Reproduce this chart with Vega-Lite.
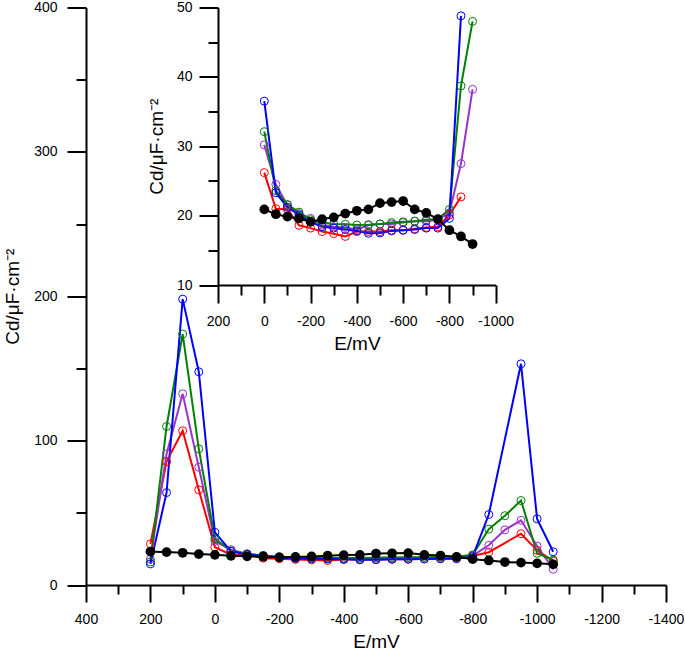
{
  "$schema": "https://vega.github.io/schema/vega-lite/v6.json",
  "width": 580,
  "height": 577.5,
  "autosize": {"type": "none"},
  "padding": {"left": 86, "top": 7.5, "right": 19, "bottom": 66},
  "background": "white",
  "config": {
    "view": {"stroke": null},
    "font": "Liberation Sans",
    "axis": {
      "grid": false,
      "domainColor": "black",
      "domainWidth": 2,
      "tickColor": "black",
      "tickWidth": 2,
      "labelColor": "black",
      "titleColor": "black",
      "labelFont": "Liberation Sans",
      "titleFont": "Liberation Sans",
      "labelFontSize": 14,
      "titleFontSize": 19,
      "titleFontWeight": "normal",
      "labelFlush": false,
      "labelOverlap": false
    }
  },
  "datasets": {
    "d": [
      {"s": "red", "E": 200, "C": 28.5}, {"s": "red", "E": 150, "C": 85.5}, {"s": "red", "E": 100, "C": 106.8}, {"s": "red", "E": 50, "C": 65.9}, {"s": "red", "E": 0, "C": 26.2}, {"s": "red", "E": -50, "C": 21.0}, {"s": "red", "E": -100, "C": 20.9}, {"s": "red", "E": -150, "C": 18.6}, {"s": "red", "E": -200, "C": 18.2}, {"s": "red", "E": -250, "C": 17.7}, {"s": "red", "E": -300, "C": 17.4}, {"s": "red", "E": -350, "C": 17.0}, {"s": "red", "E": -400, "C": 17.7}, {"s": "red", "E": -450, "C": 17.7}, {"s": "red", "E": -500, "C": 17.7}, {"s": "red", "E": -550, "C": 17.9}, {"s": "red", "E": -600, "C": 17.9}, {"s": "red", "E": -650, "C": 18.1}, {"s": "red", "E": -700, "C": 18.3}, {"s": "red", "E": -750, "C": 18.4}, {"s": "red", "E": -800, "C": 20.1}, {"s": "red", "E": -850, "C": 22.7}, {"s": "red", "E": -950, "C": 35.5}, {"s": "red", "E": -1000, "C": 24.0}, {"s": "red", "E": -1050, "C": 16.5},
      {"s": "purple", "E": 200, "C": 18.0}, {"s": "purple", "E": 150, "C": 90.8}, {"s": "purple", "E": 100, "C": 132.4}, {"s": "purple", "E": 50, "C": 81.6}, {"s": "purple", "E": 0, "C": 30.2}, {"s": "purple", "E": -50, "C": 24.5}, {"s": "purple", "E": -100, "C": 21.5}, {"s": "purple", "E": -150, "C": 20.3}, {"s": "purple", "E": -200, "C": 19.6}, {"s": "purple", "E": -250, "C": 18.6}, {"s": "purple", "E": -300, "C": 18.4}, {"s": "purple", "E": -350, "C": 18.3}, {"s": "purple", "E": -400, "C": 18.0}, {"s": "purple", "E": -450, "C": 18.6}, {"s": "purple", "E": -500, "C": 18.8}, {"s": "purple", "E": -550, "C": 18.8}, {"s": "purple", "E": -600, "C": 19.0}, {"s": "purple", "E": -650, "C": 19.2}, {"s": "purple", "E": -700, "C": 19.2}, {"s": "purple", "E": -750, "C": 19.4}, {"s": "purple", "E": -800, "C": 20.4}, {"s": "purple", "E": -850, "C": 27.5}, {"s": "purple", "E": -900, "C": 38.2}, {"s": "purple", "E": -950, "C": 44.8}, {"s": "purple", "E": -1000, "C": 27.0}, {"s": "purple", "E": -1050, "C": 10.9},
      {"s": "green", "E": 200, "C": 16.0}, {"s": "green", "E": 150, "C": 109.8}, {"s": "green", "E": 100, "C": 173.8}, {"s": "green", "E": 50, "C": 94.3}, {"s": "green", "E": 0, "C": 32.1}, {"s": "green", "E": -50, "C": 23.6}, {"s": "green", "E": -100, "C": 21.6}, {"s": "green", "E": -150, "C": 20.5}, {"s": "green", "E": -200, "C": 19.4}, {"s": "green", "E": -250, "C": 19.0}, {"s": "green", "E": -300, "C": 18.8}, {"s": "green", "E": -350, "C": 18.75}, {"s": "green", "E": -400, "C": 18.65}, {"s": "green", "E": -450, "C": 18.7}, {"s": "green", "E": -500, "C": 18.8}, {"s": "green", "E": -550, "C": 19.0}, {"s": "green", "E": -600, "C": 19.1}, {"s": "green", "E": -650, "C": 19.2}, {"s": "green", "E": -700, "C": 19.4}, {"s": "green", "E": -750, "C": 19.5}, {"s": "green", "E": -800, "C": 20.9}, {"s": "green", "E": -850, "C": 38.7}, {"s": "green", "E": -900, "C": 48.0}, {"s": "green", "E": -950, "C": 58.5}, {"s": "green", "E": -1000, "C": 22.0}, {"s": "green", "E": -1050, "C": 17.3},
      {"s": "blue", "E": 200, "C": 14.6}, {"s": "blue", "E": 150, "C": 64.0}, {"s": "blue", "E": 100, "C": 198.0}, {"s": "blue", "E": 50, "C": 147.7}, {"s": "blue", "E": 0, "C": 36.5}, {"s": "blue", "E": -50, "C": 23.3}, {"s": "blue", "E": -100, "C": 21.2}, {"s": "blue", "E": -150, "C": 20.1}, {"s": "blue", "E": -200, "C": 19.1}, {"s": "blue", "E": -250, "C": 18.4}, {"s": "blue", "E": -300, "C": 18.2}, {"s": "blue", "E": -350, "C": 18.0}, {"s": "blue", "E": -400, "C": 17.8}, {"s": "blue", "E": -450, "C": 17.45}, {"s": "blue", "E": -500, "C": 17.5}, {"s": "blue", "E": -550, "C": 17.8}, {"s": "blue", "E": -600, "C": 17.9}, {"s": "blue", "E": -650, "C": 18.0}, {"s": "blue", "E": -700, "C": 18.2}, {"s": "blue", "E": -750, "C": 18.2}, {"s": "blue", "E": -800, "C": 19.6}, {"s": "blue", "E": -850, "C": 48.8}, {"s": "blue", "E": -950, "C": 153.2}, {"s": "blue", "E": -1000, "C": 45.8}, {"s": "blue", "E": -1050, "C": 23.0},
      {"s": "black", "E": 200, "C": 23.1}, {"s": "black", "E": 150, "C": 22.8}, {"s": "black", "E": 100, "C": 22.3}, {"s": "black", "E": 50, "C": 21.4}, {"s": "black", "E": 0, "C": 20.9}, {"s": "black", "E": -50, "C": 20.2}, {"s": "black", "E": -100, "C": 19.85}, {"s": "black", "E": -150, "C": 19.6}, {"s": "black", "E": -200, "C": 19.1}, {"s": "black", "E": -250, "C": 19.5}, {"s": "black", "E": -300, "C": 19.75}, {"s": "black", "E": -350, "C": 20.3}, {"s": "black", "E": -400, "C": 20.7}, {"s": "black", "E": -450, "C": 20.9}, {"s": "black", "E": -500, "C": 21.8}, {"s": "black", "E": -550, "C": 21.95}, {"s": "black", "E": -600, "C": 22.1}, {"s": "black", "E": -650, "C": 20.9}, {"s": "black", "E": -700, "C": 20.4}, {"s": "black", "E": -750, "C": 19.5}, {"s": "black", "E": -800, "C": 17.9}, {"s": "black", "E": -850, "C": 17.0}, {"s": "black", "E": -900, "C": 15.9}, {"s": "black", "E": -950, "C": 15.5}, {"s": "black", "E": -1000, "C": 15.0}, {"s": "black", "E": -1050, "C": 14.3}
    ]
  },
  "data": {"name": "d"},
  "layer": [
    {
      "encoding": {
        "x": {
          "field": "E", "type": "quantitative",
          "scale": {"domain": [400, -1400], "nice": false, "zero": false},
          "axis": {
            "title": "E/mV",
            "values": [400, 300, 200, 100, 0, -100, -200, -300, -400, -500, -600, -700, -800, -900, -1000, -1100, -1200, -1300, -1400],
            "tickSize": {"condition": {"test": "datum.value % 200 === 0", "value": 17}, "value": 9},
            "labelExpr": "datum.value % 200 === 0 ? toString(datum.value) : ''",
            "labelPadding": 10,
            "titlePadding": 6
          }
        },
        "y": {
          "field": "C", "type": "quantitative",
          "scale": {"domain": [0, 400], "nice": false, "zero": false},
          "axis": {
            "title": "Cd/μF·cm⁻²",
            "values": [0, 50, 100, 150, 200, 250, 300, 350, 400],
            "tickSize": {"condition": {"test": "datum.value % 100 === 0", "value": 19}, "value": 10},
            "labelExpr": "datum.value % 100 === 0 ? toString(datum.value) : ''",
            "labelPadding": 10,
            "titlePadding": 11
          }
        },
        "color": {
          "field": "s", "type": "nominal", "legend": null,
          "scale": {"domain": ["red", "purple", "green", "blue", "black"], "range": ["#ff0000", "#9933cc", "#008000", "#0000ff", "#000000"]}
        }
      },
      "layer": [
        {"mark": {"type": "line", "strokeWidth": 2}},
        {"transform": [{"filter": "datum.s !== 'black'"}], "mark": {"type": "point", "filled": false, "size": 64, "strokeWidth": 1, "opacity": 1}},
        {"transform": [{"filter": "datum.s === 'black'"}], "mark": {"type": "point", "filled": true, "size": 95, "opacity": 1}}
      ]
    },
    {
      "transform": [{"filter": "datum.E <= 0 && datum.E >= -900"}],
      "encoding": {
        "x": {
          "field": "E", "type": "quantitative",
          "scale": {"domain": [200, -1000], "range": [132, 409.7], "nice": false, "zero": false},
          "axis": {
            "orient": "bottom",
            "offset": -300,
            "title": "E/mV",
            "values": [200, 100, 0, -100, -200, -300, -400, -500, -600, -700, -800, -900, -1000],
            "tickSize": {"condition": {"test": "datum.value % 200 === 0", "value": 18}, "value": 10},
            "labelExpr": "datum.value % 200 === 0 ? toString(datum.value) : ''",
            "labelPadding": 11,
            "titlePadding": 6
          }
        },
        "y": {
          "field": "C", "type": "quantitative",
          "scale": {"domain": [10, 50], "range": [277.5, 0], "nice": false, "zero": false},
          "axis": {
            "orient": "left",
            "offset": -132,
            "title": "Cd/μF·cm⁻²",
            "values": [10, 15, 20, 25, 30, 35, 40, 45, 50],
            "tickSize": {"condition": {"test": "datum.value % 10 === 0", "value": 19}, "value": 10},
            "labelExpr": "datum.value % 10 === 0 ? toString(datum.value) : ''",
            "labelPadding": 7,
            "titlePadding": 10
          }
        },
        "color": {
          "field": "s", "type": "nominal", "legend": null,
          "scale": {"domain": ["red", "purple", "green", "blue", "black"], "range": ["#ff0000", "#9933cc", "#008000", "#0000ff", "#000000"]}
        }
      },
      "layer": [
        {"mark": {"type": "line", "strokeWidth": 2}},
        {"transform": [{"filter": "datum.s !== 'black'"}], "mark": {"type": "point", "filled": false, "size": 64, "strokeWidth": 1, "opacity": 1}},
        {"transform": [{"filter": "datum.s === 'black'"}], "mark": {"type": "point", "filled": true, "size": 95, "opacity": 1}}
      ]
    }
  ],
  "resolve": {"scale": {"x": "independent", "y": "independent"}}
}
